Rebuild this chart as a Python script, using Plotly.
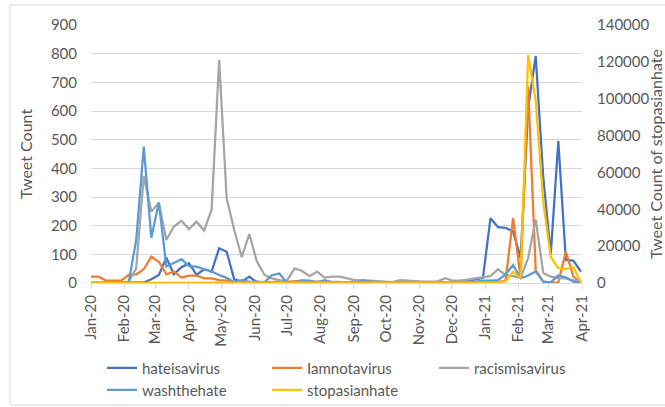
import pandas as pd
import plotly.graph_objects as go

# Weekly tweet counts, one value per week starting 2020-01-01
weeks = pd.date_range("2020-01-01", periods=66, freq="7D")

hateisavirus = [0, 0, 0, 0, 0, 0, 0, 2, 13, 28, 88, 30, 55, 69, 28, 48, 40, 121, 109, 13,
                 5, 22, 3, 3, 2, 2, 3, 3, 4, 3, 2, 3, 2, 2, 2, 5, 10, 4, 2, 2,
                 1, 1, 1, 1, 1, 1, 2, 2, 2, 5, 8, 13, 18, 226, 195, 192, 180, 88, 610, 792,
                 370, 100, 495, 80, 78, 40]

iamnotavirus = [22, 22, 8, 8, 8, 28, 30, 48, 92, 74, 30, 40, 19, 26, 26, 16, 16, 10, 8, 2,
                4, 3, 2, 2, 3, 5, 4, 6, 8, 6, 5, 4, 3, 3, 2, 2, 2, 2, 1, 1,
                1, 1, 1, 1, 1, 1, 1, 1, 1, 1, 1, 1, 1, 2, 3, 8, 226, 16, 685, 45,
                5, 1, 1, 109, 22, 1]

racismisavirus = [0, 0, 0, 0, 1, 5, 51, 373, 249, 280, 150, 197, 217, 188, 214, 183, 255, 778, 296, 185,
                  90, 171, 76, 29, 16, 10, 8, 51, 42, 24, 40, 19, 22, 22, 16, 10, 10, 8, 6, 5,
                  3, 10, 8, 5, 5, 5, 6, 17, 8, 8, 12, 15, 20, 24, 48, 28, 24, 18, 87, 222,
                  35, 22, 18, 16, 9, 5]

washthehate = [0, 0, 0, 0, 0, 2, 150, 476, 158, 280, 57, 69, 83, 59, 57, 48, 40, 28, 18, 3,
               10, 4, 5, 2, 27, 33, 1, 2, 9, 8, 2, 10, 2, 3, 2, 2, 7, 4, 3, 2,
               2, 2, 2, 1, 1, 2, 3, 3, 3, 2, 3, 5, 8, 8, 10, 30, 63, 16, 26, 40,
               5, 2, 26, 20, 5, 1]

stopasianhate = [0] * 53 + [200, 400, 1000, 6100, 2500, 123700, 99000, 44000, 14000,
                            8100, 7600, 8700, 300]

left_ticks = list(range(0, 901, 100))
right_ticks = list(range(0, 140001, 20000))

FONT = "Lato"
TXT = "#595959"
GRID = "#d9d9d9"
W, H = 665, 407

# name, values, colour, y axis, legend slot (left px, centre px)
series = [
    ("hateisavirus", hateisavirus, "#4472C4", "y", (102, 368)),
    ("Iamnotavirus", iamnotavirus, "#ED7D31", "y", (267, 368)),
    ("racismisavirus", racismisavirus, "#A5A5A5", "y", (434, 368)),
    ("washthehate", washthehate, "#5B9BD5", "y", (102, 390)),
    ("stopasianhate", stopasianhate, "#FFC000", "y2", (267, 390)),
]

fig = go.Figure()
legends = {}
for i, (name, vals, color, axis, (lx, ly)) in enumerate(series):
    key = "legend" if i == 0 else f"legend{i + 1}"
    fig.add_trace(go.Scatter(
        x=weeks, y=vals, name=name, yaxis=axis, mode="lines", legend=key,
        line=dict(color=color, width=2.25),
    ))
    legends[key] = dict(
        orientation="h", xref="container", x=lx / W, xanchor="left",
        yref="container", y=1 - ly / H, yanchor="middle",
        font=dict(size=15, color=TXT), bgcolor="rgba(0,0,0,0)",
    )

fig.update_layout(
    width=W, height=H,
    margin=dict(l=91, r=83, t=25, b=124, autoexpand=False),
    paper_bgcolor="white", plot_bgcolor="white",
    font=dict(family=FONT, color=TXT, size=15),
    showlegend=True,
    **legends,
    xaxis=dict(
        type="date", range=["2020-01-01", "2021-04-01"],
        tick0="2020-01-01", dtick="M1", tickformat="%b-%y",
        tickangle=-90, ticks="outside", ticklen=5, tickcolor=GRID,
        showline=True, linecolor=GRID, linewidth=1,
        showgrid=False, zeroline=False,
        tickfont=dict(size=15, color=TXT),
    ),
    yaxis=dict(
        range=[0, 900], tickvals=left_ticks,
        showgrid=True, gridcolor=GRID, gridwidth=1,
        zeroline=False, showline=False, ticks="",
        ticklabelstandoff=13,
        tickfont=dict(size=15, color=TXT),
        title=dict(text="Tweet Count", font=dict(size=16, color=TXT), standoff=14),
    ),
    yaxis2=dict(
        range=[0, 140000], tickvals=right_ticks,
        ticktext=[str(v) for v in right_ticks],
        overlaying="y", side="right",
        showgrid=False, zeroline=False, showline=False, ticks="",
        ticklabelstandoff=14,
        tickfont=dict(size=15, color=TXT),
        title=dict(text="Tweet Count of stopasianhate", font=dict(size=16, color=TXT), standoff=8),
    ),
    shapes=[dict(
        type="rect", xref="paper", yref="paper",
        x0=-0.165, x1=1.2, y0=-0.473, y1=1.078,
        line=dict(color=GRID, width=1), fillcolor="rgba(0,0,0,0)", layer="below",
    )],
)

fig.write_html("out.html")
